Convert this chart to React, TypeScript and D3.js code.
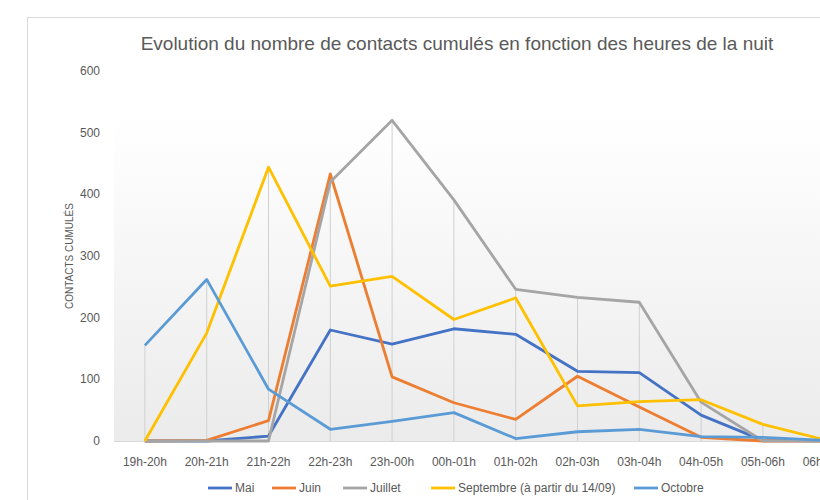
import React, { useEffect, useRef } from 'react';
import * as d3 from 'd3';

const hours = ['19h-20h', '20h-21h', '21h-22h', '22h-23h', '23h-00h', '00h-01h', '01h-02h', '02h-03h', '03h-04h', '04h-05h', '05h-06h', '06h-07h'];
const mai = [0, 0, 8, 180, 157, 182, 173, 113, 111, 42, 1, 0];
const juin = [0, 1, 33, 433, 104, 62, 35, 105, 55, 6, 0, 0];
const juillet = [0, 0, 0, 420, 520, 391, 246, 233, 225, 63, 0, 0];
const septembre = [0, 175, 444, 251, 267, 197, 232, 57, 64, 67, 27, 2];
const octobre = [155, 262, 84, 19, 32, 46, 4, 15, 19, 7, 6, 1];
const yTicks = [0, 100, 200, 300, 400, 500, 600];

const series = [
  { name: 'Mai', values: mai, color: '#4472C4' },
  { name: 'Juin', values: juin, color: '#ED7D31' },
  { name: 'Juillet', values: juillet, color: '#A5A5A5' },
  { name: 'Septembre (à partir du 14/09)', values: septembre, color: '#FFC000' },
  { name: 'Octobre', values: octobre, color: '#5B9BD5' },
];

const App = () => {
  const svgRef = useRef<SVGSVGElement>(null);

  useEffect(() => {
    const svg = d3.select(svgRef.current);
    svg.selectAll('*').remove();
    const font = '"Liberation Sans", Arial, sans-serif';
    const txt = '#595959';

    const x = d3.scaleBand().domain(hours).range([114, 114 + 12 * 61.8]);
    const cx = (h: string) => (x(h) as number) + x.bandwidth() / 2;
    const y = d3.scaleLinear().domain([0, 600]).range([441, 71]);

    // chart frame
    svg.append('rect')
      .attr('x', 27.5).attr('y', 17.5).attr('width', 900).attr('height', 600)
      .attr('fill', '#fff').attr('stroke', '#d9d9d9');

    const defs = svg.append('defs');
    const grad = defs.append('linearGradient').attr('id', 'bg').attr('x1', 0).attr('x2', 0).attr('y1', 0).attr('y2', 1);
    grad.append('stop').attr('offset', '0%').attr('stop-color', '#ffffff');
    grad.append('stop').attr('offset', '15%').attr('stop-color', '#ffffff');
    grad.append('stop').attr('offset', '100%').attr('stop-color', '#ebebeb');

    svg.append('rect')
      .attr('x', 114).attr('y', 60).attr('width', 800).attr('height', y(0) - 60)
      .attr('fill', 'url(#bg)');

    svg.append('text')
      .attr('x', 457).attr('y', 50).attr('text-anchor', 'middle')
      .attr('font-family', font).attr('font-size', 19).attr('fill', txt)
      .text('Evolution du nombre de contacts cumulés en fonction des heures de la nuit');

    // drop lines
    svg.append('g').selectAll('line')
      .data(hours)
      .join('line')
      .attr('x1', d => cx(d)).attr('x2', d => cx(d))
      .attr('y1', (d, i) => y(d3.max(series, s => s.values[i]) as number))
      .attr('y2', y(0))
      .attr('stroke', '#d0d0d0').attr('stroke-width', 1);

    svg.append('line')
      .attr('x1', 114).attr('x2', 900).attr('y1', y(0) + 0.5).attr('y2', y(0) + 0.5)
      .attr('stroke', '#d9d9d9');

    svg.append('g').selectAll('text')
      .data(yTicks)
      .join('text')
      .attr('x', 100).attr('y', d => y(d) + 4)
      .attr('text-anchor', 'end')
      .attr('font-family', font).attr('font-size', 12).attr('fill', txt)
      .text(d => d);

    svg.append('g').selectAll('text')
      .data(hours)
      .join('text')
      .attr('x', d => cx(d)).attr('y', 466)
      .attr('text-anchor', 'middle')
      .attr('font-family', font).attr('font-size', 12).attr('fill', txt)
      .text(d => d);

    svg.append('text')
      .attr('transform', `translate(73, ${y(300)}) rotate(-90)`)
      .attr('text-anchor', 'middle')
      .attr('font-family', font).attr('font-size', 10).attr('fill', txt)
      .text('CONTACTS CUMULÉS');

    const line = d3.line<number>()
      .x((d, i) => cx(hours[i]))
      .y(d => y(d));

    svg.append('g').selectAll('path')
      .data(series)
      .join('path')
      .attr('d', d => line(d.values))
      .attr('fill', 'none')
      .attr('stroke', d => d.color)
      .attr('stroke-width', 2.8)
      .attr('stroke-linejoin', 'round');

    // legend
    const legendX = [208, 272, 343, 431, 634];
    const lg = svg.append('g').selectAll('g')
      .data(series)
      .join('g')
      .attr('transform', (d, i) => `translate(${legendX[i]}, 488)`);
    lg.append('line')
      .attr('x1', 0).attr('x2', 24).attr('y1', 0).attr('y2', 0)
      .attr('stroke', d => d.color).attr('stroke-width', 2.8);
    lg.append('text')
      .attr('x', 27).attr('y', 4)
      .attr('font-family', font).attr('font-size', 12).attr('fill', txt)
      .text(d => d.name);
  }, []);

  return (
    <div style={{ position: 'absolute', left: 0, top: 0 }}>
      <svg ref={svgRef} width={820} height={500} style={{ display: 'block' }}></svg>
    </div>
  );
};

export default App;
